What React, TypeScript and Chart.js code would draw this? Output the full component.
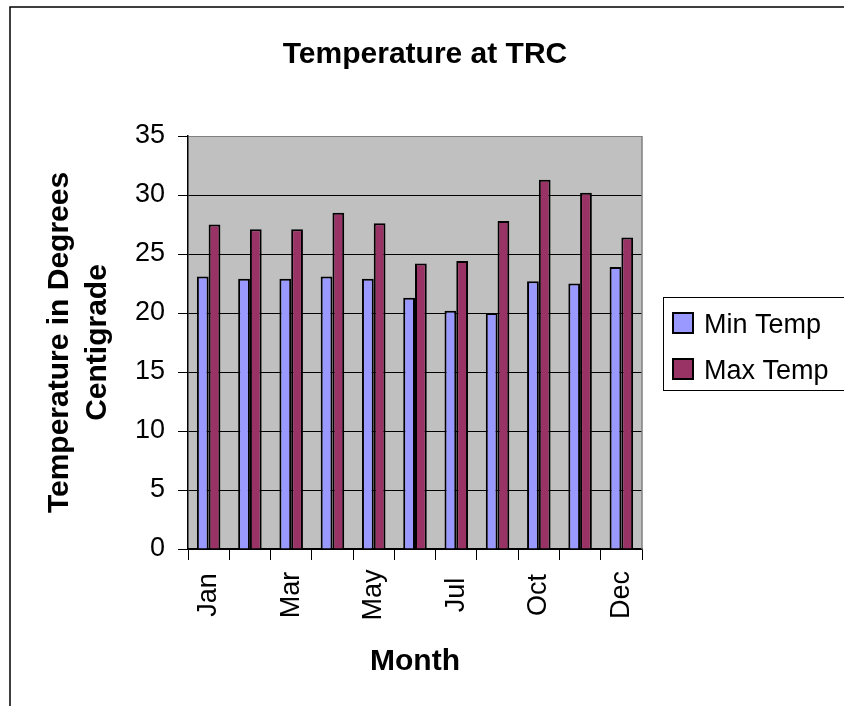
import { useEffect, useRef } from 'react';
import { Chart, registerables } from 'chart.js';

Chart.register(...registerables);

const chartTitle = 'Temperature at TRC';
const xAxisTitle = 'Month';
const yAxisTitleLines = ['Temperature in Degrees', 'Centigrade'];
const months = ['Jan', 'Feb', 'Mar', 'Apr', 'May', 'Jun', 'Jul', 'Aug', 'Oct', 'Nov', 'Dec'];
const shownLabelIndexes = [0, 2, 4, 6, 8, 10];
const seriesNames = ['Min Temp', 'Max Temp'];
const minTemp = [23.1, 22.9, 22.9, 23.1, 22.9, 21.3, 20.2, 20.0, 22.7, 22.5, 23.9];
const maxTemp = [27.5, 27.1, 27.1, 28.5, 27.6, 24.2, 24.4, 27.8, 31.3, 30.2, 26.4];
const yMin = 0;
const yMax = 35;
const yStep = 5;

const FONT = '"Liberation Sans", Arial, Helvetica, sans-serif';
const MIN_COLOR = '#9999FF';
const MAX_COLOR = '#993366';

const decorPlugin = {
  id: 'decor',
  beforeDraw(chart: any) {
    const { ctx, chartArea: a } = chart;
    ctx.save();
    ctx.fillStyle = '#ffffff';
    ctx.fillRect(0, 0, chart.width, chart.height);
    ctx.fillStyle = '#C0C0C0';
    ctx.fillRect(a.left, a.top, a.right - a.left, a.bottom - a.top);
    ctx.restore();
  },
  afterDraw(chart: any) {
    const { ctx, chartArea: a } = chart;
    const xScale = chart.scales.x;
    ctx.save();

    // plot area right border (grey)
    ctx.strokeStyle = '#808080';
    ctx.lineWidth = 1.5;
    ctx.beginPath();
    ctx.moveTo(a.right, a.top);
    ctx.lineTo(a.right, a.bottom);
    ctx.stroke();

    // outer chart frame (cropped)
    ctx.strokeStyle = '#000000';
    ctx.lineWidth = 1.5;
    ctx.beginPath();
    ctx.moveTo(10, chart.height + 2);
    ctx.lineTo(10, 7);
    ctx.lineTo(chart.width + 2, 7);
    ctx.stroke();

    ctx.fillStyle = '#000000';

    // title
    ctx.font = `bold 30px ${FONT}`;
    ctx.textAlign = 'center';
    ctx.textBaseline = 'alphabetic';
    ctx.fillText(chartTitle, 425, 63);

    // x axis title
    ctx.fillText(xAxisTitle, (a.left + a.right) / 2, 670);

    // y axis title (two lines, rotated)
    const cy = (a.top + a.bottom) / 2;
    const baselines = [68, 106];
    yAxisTitleLines.forEach((line, i) => {
      ctx.save();
      ctx.translate(baselines[i], cy);
      ctx.rotate(-Math.PI / 2);
      ctx.fillText(line, 0, 0);
      ctx.restore();
    });

    // x tick labels (rotated, centred)
    ctx.font = `27px ${FONT}`;
    ctx.textBaseline = 'middle';
    shownLabelIndexes.forEach((idx) => {
      const px = xScale.getPixelForValue(idx);
      ctx.save();
      ctx.translate(px, 595);
      ctx.rotate(-Math.PI / 2);
      ctx.fillText(months[idx], 0, 0);
      ctx.restore();
    });

    // legend
    ctx.strokeStyle = '#000000';
    ctx.lineWidth = 1;
    ctx.strokeRect(663.5, 297.5, 220, 93);
    const colors = [MIN_COLOR, MAX_COLOR];
    ctx.textAlign = 'left';
    ctx.textBaseline = 'alphabetic';
    seriesNames.forEach((name, i) => {
      const y = 313 + i * 46;
      ctx.fillStyle = colors[i];
      ctx.fillRect(673, y, 20, 20);
      ctx.lineWidth = 2;
      ctx.strokeRect(673, y, 20, 20);
      ctx.fillStyle = '#000000';
      ctx.fillText(name, 704, y + 19.5);
    });

    ctx.restore();
  },
};

export default function App() {
  const canvasRef = useRef<HTMLCanvasElement | null>(null);

  useEffect(() => {
    if (!canvasRef.current) return;
    const chart = new Chart(canvasRef.current, {
      type: 'bar',
      data: {
        labels: months,
        datasets: [
          {
            label: seriesNames[0],
            data: minTemp,
            backgroundColor: MIN_COLOR,
            borderColor: '#000000',
            borderWidth: 2,
            categoryPercentage: 0.57,
            barPercentage: 1.0,
          },
          {
            label: seriesNames[1],
            data: maxTemp,
            backgroundColor: MAX_COLOR,
            borderColor: '#000000',
            borderWidth: 2,
            categoryPercentage: 0.57,
            barPercentage: 1.0,
          },
        ],
      },
      options: {
        responsive: false,
        animation: false,
        devicePixelRatio: 1,
        layout: { padding: { left: 120, top: 136, right: 202, bottom: 0 } },
        plugins: {
          legend: { display: false },
          title: { display: false },
          tooltip: { enabled: false },
        },
        scales: {
          x: {
            offset: true,
            grid: {
              offset: true,
              drawOnChartArea: false,
              drawTicks: true,
              tickLength: 11,
              color: '#000000',
              tickColor: '#000000',
              lineWidth: 1,
            },
            border: { display: true, color: '#000000', width: 1.5 },
            ticks: { display: false },
            afterFit: (scale: any) => {
              scale.height = 157;
            },
          },
          y: {
            min: yMin,
            max: yMax,
            ticks: {
              stepSize: yStep,
              color: '#000000',
              font: { family: FONT, size: 27 },
              padding: 13,
            },
            grid: {
              drawTicks: true,
              tickLength: 10,
              color: (c: any) => (c.tick && c.tick.value === yMax ? '#808080' : '#000000'),
              tickColor: '#000000',
              lineWidth: 1,
            },
            border: { display: true, color: '#000000', width: 1.5 },
            afterFit: (scale: any) => {
              scale.width = 68;
            },
          },
        },
      },
      plugins: [decorPlugin],
    });
    return () => chart.destroy();
  }, []);

  return (
    <div style={{ position: 'fixed', left: 0, top: 0, width: 844, height: 706, background: '#fff' }}>
      <canvas ref={canvasRef} width={844} height={706} style={{ display: 'block' }} />
    </div>
  );
}
